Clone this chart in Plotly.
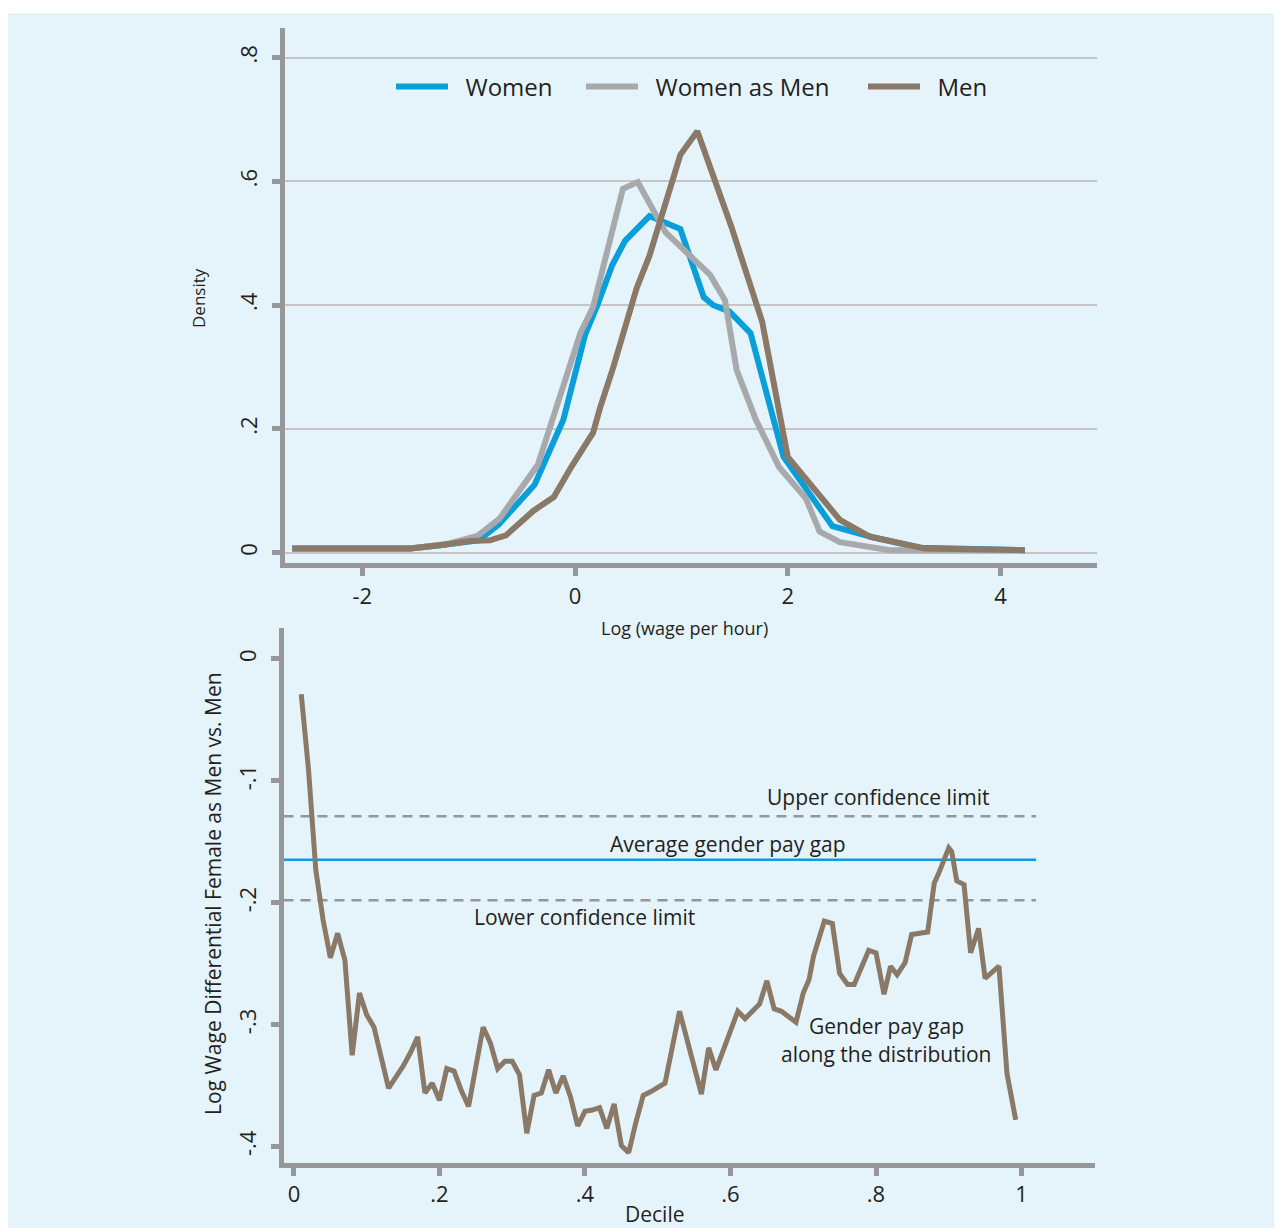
import plotly.graph_objects as go

# ---------------- data: top panel (kernel densities) ----------------
women_x = [-2.66, -1.55, -1.27, -0.91, -0.72, -0.38, -0.11, 0.094, 0.21, 0.35, 0.47, 0.70, 0.99, 1.21, 1.30, 1.45, 1.65, 1.96, 2.42, 2.80, 3.24, 4.23]
women_y = [0.007, 0.007, 0.012, 0.020, 0.045, 0.110, 0.215, 0.352, 0.400, 0.465, 0.504, 0.544, 0.523, 0.413, 0.400, 0.390, 0.355, 0.155, 0.043, 0.025, 0.008, 0.004]

wam_x = [-2.66, -1.55, -1.18, -0.92, -0.71, -0.35, 0.05, 0.17, 0.45, 0.59, 0.85, 1.27, 1.41, 1.52, 1.70, 1.92, 2.17, 2.30, 2.49, 2.96, 4.23]
wam_y = [0.007, 0.007, 0.015, 0.027, 0.055, 0.142, 0.355, 0.397, 0.588, 0.599, 0.518, 0.449, 0.408, 0.295, 0.215, 0.138, 0.088, 0.034, 0.017, 0.004, 0.004]

men_x = [-2.66, -1.55, -1.27, -0.99, -0.80, -0.65, -0.39, -0.20, -0.03, 0.17, 0.235, 0.36, 0.58, 0.70, 0.99, 1.15, 1.47, 1.67, 1.76, 2.00, 2.49, 2.77, 3.29, 4.23]
men_y = [0.007, 0.007, 0.012, 0.019, 0.020, 0.028, 0.068, 0.090, 0.140, 0.194, 0.234, 0.300, 0.428, 0.480, 0.643, 0.681, 0.527, 0.425, 0.373, 0.155, 0.053, 0.026, 0.007, 0.004]

# ---------------- data: bottom panel (gap along distribution) ----------------
gap_x = [0.01, 0.02, 0.03, 0.04, 0.05, 0.06, 0.07, 0.08, 0.09, 0.10, 0.11, 0.12, 0.13, 0.14, 0.15, 0.16, 0.17, 0.18, 0.19, 0.20,
         0.21, 0.22, 0.23, 0.24, 0.25, 0.26, 0.27, 0.28, 0.29, 0.30, 0.31, 0.32, 0.33, 0.34, 0.35, 0.36, 0.37, 0.38, 0.39, 0.40,
         0.41, 0.42, 0.43, 0.44, 0.45, 0.46, 0.47, 0.48, 0.49, 0.51, 0.53, 0.56, 0.57, 0.58, 0.61, 0.62, 0.64, 0.65, 0.66, 0.67,
         0.69, 0.70, 0.708, 0.714, 0.729, 0.74, 0.75, 0.761, 0.77, 0.79, 0.80, 0.811, 0.82, 0.829, 0.84, 0.849, 0.871, 0.88, 0.886, 0.90,
         0.904, 0.911, 0.921, 0.93, 0.941, 0.95, 0.969, 0.98, 0.992]
gap_y = [-0.029, -0.091, -0.173, -0.214, -0.245, -0.225, -0.247, -0.325, -0.274, -0.292, -0.302, -0.329, -0.352, -0.343, -0.334, -0.323, -0.310, -0.356, -0.348, -0.362,
         -0.336, -0.338, -0.354, -0.367, -0.334, -0.302, -0.315, -0.336, -0.330, -0.330, -0.341, -0.389, -0.358, -0.356, -0.337, -0.356, -0.342, -0.359, -0.383, -0.371,
         -0.370, -0.368, -0.385, -0.365, -0.399, -0.405, -0.380, -0.358, -0.355, -0.348, -0.289, -0.357, -0.319, -0.337, -0.289, -0.295, -0.283, -0.264, -0.287, -0.289,
         -0.298, -0.274, -0.263, -0.244, -0.215, -0.217, -0.258, -0.267, -0.267, -0.239, -0.241, -0.275, -0.252, -0.259, -0.249, -0.226, -0.224, -0.184, -0.176, -0.155,
         -0.158, -0.182, -0.185, -0.241, -0.221, -0.262, -0.252, -0.340, -0.378]

upper_ci = -0.129
avg_gap = -0.1646
lower_ci = -0.198
ref_x = [-0.0144, 1.02]

top_yticks = [0, 0.2, 0.4, 0.6, 0.8]
top_yticktext = ["0", ".2", ".4", ".6", ".8"]
top_xticks = [-2, 0, 2, 4]
top_xticktext = ["-2", "0", "2", "4"]
bot_yticks = [0, -0.1, -0.2, -0.3, -0.4]
bot_yticktext = ["0", "-.1", "-.2", "-.3", "-.4"]
bot_xticks = [0, 0.2, 0.4, 0.6, 0.8, 1]
bot_xticktext = ["0", ".2", ".4", ".6", ".8", "1"]

# ---------------- styles ----------------
W, H = 1268, 1228
OFF = 8  # page body margin
BG = "#e5f4fb"
BLUE = "#0a9edb"
GRAY = "#a7a9ac"
BROWN = "#8a7966"
AXIS = "#969799"
GRID = "#c4c5c7"
TXT = "#231f20"
FONT = "Open Sans"

def px_x(p):
    return (p - OFF) / W

def px_y(p):
    return 1 - (p - OFF) / H

fig = go.Figure()

fig.add_trace(go.Scatter(x=women_x, y=women_y, mode="lines", name="\u00a0\u00a0Women", legend="legend",
                         line=dict(color=BLUE, width=6), xaxis="x", yaxis="y"))
fig.add_trace(go.Scatter(x=wam_x, y=wam_y, mode="lines", name="\u00a0\u00a0Women as Men", legend="legend2",
                         line=dict(color=GRAY, width=6), xaxis="x", yaxis="y"))
fig.add_trace(go.Scatter(x=men_x, y=men_y, mode="lines", name="\u00a0\u00a0Men", legend="legend3",
                         line=dict(color=BROWN, width=6), xaxis="x", yaxis="y"))

# reference lines bottom
fig.add_trace(go.Scatter(x=ref_x, y=[upper_ci, upper_ci], mode="lines", showlegend=False,
                         line=dict(color="#939598", width=2.5, dash="10px,7px"), xaxis="x2", yaxis="y2"))
fig.add_trace(go.Scatter(x=ref_x, y=[lower_ci, lower_ci], mode="lines", showlegend=False,
                         line=dict(color="#939598", width=2.5, dash="10px,7px"), xaxis="x2", yaxis="y2"))
fig.add_trace(go.Scatter(x=ref_x, y=[avg_gap, avg_gap], mode="lines", showlegend=False,
                         line=dict(color=BLUE, width=2.5), xaxis="x2", yaxis="y2"))
fig.add_trace(go.Scatter(x=gap_x, y=gap_y, mode="lines", showlegend=False,
                         line=dict(color=BROWN, width=5), xaxis="x2", yaxis="y2"))

axis_common = dict(showline=True, linecolor=AXIS, linewidth=5, ticks="outside",
                   ticklen=8, tickwidth=5, tickcolor=AXIS, zeroline=False,
                   tickfont=dict(family=FONT, size=22, color=TXT))

def leg(xpage):
    return dict(orientation="h", x=px_x(xpage), xanchor="left", y=px_y(87), yanchor="middle",
                bgcolor="rgba(0,0,0,0)", font=dict(family=FONT, size=24, color=TXT),
                itemwidth=52, borderwidth=0)

fig.update_layout(
    width=W, height=H,
    margin=dict(l=0, r=0, t=0, b=0),
    paper_bgcolor=BG,
    plot_bgcolor="rgba(0,0,0,0)",
    font=dict(family=FONT, color=TXT),
    showlegend=True,
    legend=leg(391),
    legend2=leg(581),
    legend3=leg(863),
    xaxis=dict(domain=[px_x(284.5), px_x(1097)], range=[-2.732, 4.908], tickvals=top_xticks,
               ticktext=top_xticktext, showgrid=False, anchor="y", ticklabelstandoff=2, **axis_common),
    yaxis=dict(domain=[px_y(562.5), px_y(28)], range=[-0.0158, 0.848], tickvals=top_yticks,
               ticktext=top_yticktext, tickangle=-90, showgrid=True, gridcolor=GRID, gridwidth=2,
               anchor="x", ticklabelstandoff=6, **axis_common),
    xaxis2=dict(domain=[px_x(283.5), px_x(1095)], range=[-0.0144, 1.101], tickvals=bot_xticks,
                ticktext=bot_xticktext, showgrid=False, anchor="y2", ticklabelstandoff=0, **axis_common),
    yaxis2=dict(domain=[px_y(1162.5), px_y(628)], range=[-0.413, 0.0254], tickvals=bot_yticks,
                ticktext=bot_yticktext, tickangle=-90, showgrid=False, anchor="x2",
                ticklabelstandoff=6, **axis_common),
    shapes=[dict(type="rect", xref="paper", yref="paper", x0=0, x1=1,
                 y0=px_y(13), y1=1, fillcolor="white", line=dict(width=0), layer="below")],
)

ann = []
def add_text(text, x, y, size, xref="paper", yref="paper", angle=0):
    ann.append(dict(text=text, x=x, y=y, xref=xref, yref=yref, showarrow=False,
                    font=dict(family=FONT, size=size, color=TXT), textangle=angle,
                    xanchor="center", yanchor="middle"))

add_text("Density", px_x(198), px_y(298), 17, angle=-90)
add_text("Log (wage per hour)", px_x(684), px_y(628), 18)
add_text("Log Wage Differential Female as Men vs. Men", px_x(213), px_y(894), 21, angle=-90)
add_text("Decile", px_x(654), px_y(1214), 21)
add_text("Upper confidence limit", 0.803, -0.113, 21, "x2", "y2")
add_text("Average gender pay gap", 0.597, -0.152, 21, "x2", "y2")
add_text("Lower confidence limit", 0.40, -0.212, 21, "x2", "y2")
add_text("Gender pay gap", 0.814, -0.301, 21, "x2", "y2")
add_text("along the distribution", 0.814, -0.324, 21, "x2", "y2")
fig.update_layout(annotations=ann)

fig.write_html("out.html")
